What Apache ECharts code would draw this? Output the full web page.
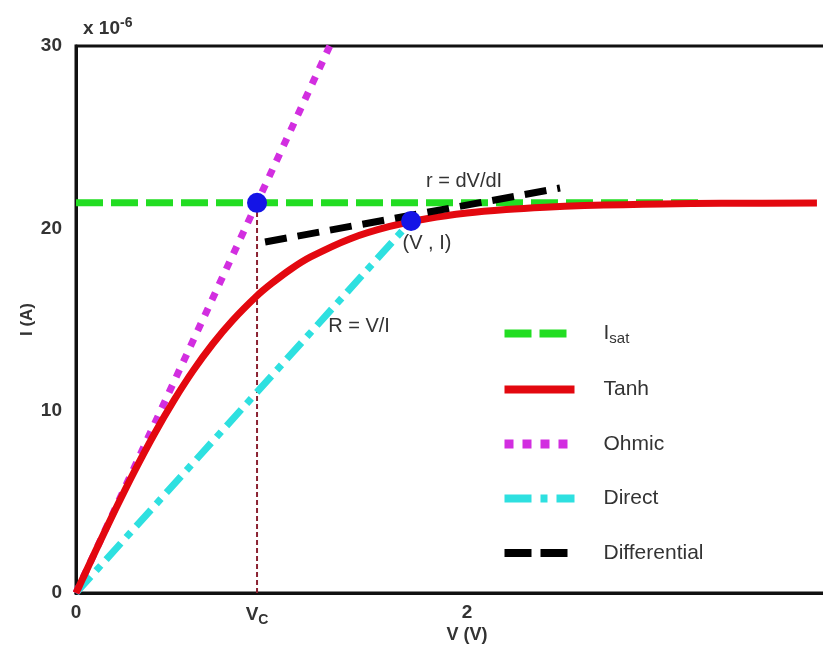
<!DOCTYPE html>
<html>
<head>
<meta charset="utf-8">
<script src="https://cdn.jsdelivr.net/npm/echarts@6/dist/echarts.min.js"></script>
<style>
html,body{margin:0;padding:0;background:#fff;}
#chart{width:823px;height:650px;}
</style>
</head>
<body>
<div id="chart"></div>
<script>
// Values in units of 1e-6 A (current) and V (voltage)
const VC = 0.926;
const ISAT = 21.4;
const xTickValues = [0, VC, 2, 4];
const yTickStep = 10;

const vIsat = [0, 3.2];
const iIsat = [ISAT, ISAT];

const vTanh = [0, 0.1, 0.2, 0.3, 0.4, 0.5, 0.6, 0.7, 0.8, 0.926, 1.0, 1.1, 1.2, 1.4, 1.6, 1.8, 2.0, 2.2, 2.4, 2.6, 2.8, 3.0, 3.3, 3.79];
const iTanh = [0, 2.30, 4.55, 6.70, 8.71, 10.55, 12.21, 13.67, 14.94, 16.30, 16.97, 17.77, 18.43, 19.42, 20.09, 20.54, 20.84, 21.03, 21.16, 21.25, 21.30, 21.34, 21.37, 21.39];

const vOhmic = [0, 1.298];
const iOhmic = [0, 30];

const vDirect = [0, 1.714];
const iDirect = [0, 20.40];

const vDiff = [0.967, 2.476];
const iDiff = [19.25, 22.21];

const vVcLine = [VC, VC];
const iVcLine = [0, ISAT];

const vPoints = [VC, 1.714];
const iPoints = [ISAT, 20.40];

const noteText = ['r = dV/dI', '(V , I)', 'R = V/I'];
const vNotes = [1.985, 1.795, 1.448];
const iNotes = [22.59, 19.19, 14.64];

const zip = (a, b) => a.map((v, i) => [v, b[i]]);
const FONT = "'Liberation Sans', Arial, sans-serif";
const noSym = {color: 'rgba(0,0,0,0)', borderWidth: 0, opacity: 0};

const chart = echarts.init(document.getElementById('chart'), null, {renderer: 'canvas'});

chart.setOption({
  backgroundColor: '#ffffff',
  animation: false,
  textStyle: {fontFamily: FONT},
  title: {
    text: '{a|x 10}{b|-6}',
    left: 78, top: 11,
    textStyle: {
      rich: {
        a: {fontFamily: FONT, fontSize: 19, fontWeight: 'bold', color: '#333'},
        b: {fontFamily: FONT, fontSize: 14, fontWeight: 'bold', color: '#333', padding: [0, 0, 12, 0]}
      }
    }
  },
  grid: {
    left: 76, top: 46, right: -35, bottom: 57,
    outerBoundsMode: 'none',
    show: true, borderColor: '#111', borderWidth: 3, containLabel: false
  },
  legend: {
    orient: 'vertical',
    left: 500, top: 321, padding: 0,
    itemWidth: 70, itemHeight: 20, itemGap: 32.5,
    textStyle: {fontFamily: FONT, fontSize: 21, color: '#333', padding: [0, 0, 0, 24], lineHeight: 22,
      rich: {
        i: {fontFamily: FONT, fontSize: 21, color: '#333', lineHeight: 22},
        s: {fontFamily: FONT, fontSize: 15, color: '#333', padding: [10, 0, 0, 0], lineHeight: 22}
      }
    },
    formatter: name => name === 'Isat' ? '{i|I}{s|sat}' : name,
    data: [
      {name: 'Isat', itemStyle: noSym, lineStyle: {width: 8, type: [27, 8]}},
      {name: 'Tanh', itemStyle: noSym, lineStyle: {width: 8, type: 'solid'}},
      {name: 'Ohmic', itemStyle: noSym, lineStyle: {width: 9, type: [9, 9]}},
      {name: 'Direct', itemStyle: noSym, lineStyle: {width: 8, type: [27, 9, 7, 9]}},
      {name: 'Differential', itemStyle: noSym, lineStyle: {width: 8, type: [27, 9]}}
    ]
  },
  xAxis: {
    type: 'value', min: 0, max: 4,
    axisLine: {lineStyle: {color: '#111', width: 3}},
    axisTick: {show: false},
    splitLine: {show: false},
    name: 'V (V)', nameLocation: 'middle', nameGap: 33, nameMoveOverlap: false,
    nameTextStyle: {fontFamily: FONT, fontSize: 18, fontWeight: 'bold', color: '#333'},
    axisLabel: {
      customValues: xTickValues,
      margin: 10,
      fontFamily: FONT, fontSize: 19, fontWeight: 'bold', color: '#333',
      formatter: v => Math.abs(v - VC) < 1e-6 ? '{v|V}{c|C}' : String(v),
      rich: {
        v: {fontFamily: FONT, fontSize: 19, fontWeight: 'bold', color: '#333'},
        c: {fontFamily: FONT, fontSize: 14, fontWeight: 'bold', color: '#333', padding: [10, 0, 0, 0]}
      }
    }
  },
  yAxis: {
    type: 'value', min: 0, max: 30, interval: yTickStep,
    axisLine: {show: true, lineStyle: {color: '#111', width: 3}},
    axisTick: {show: false},
    splitLine: {show: false},
    name: 'I (A)', nameLocation: 'middle', nameGap: 40, nameRotate: 90, nameMoveOverlap: false,
    nameTextStyle: {fontFamily: FONT, fontSize: 17, fontWeight: 'bold', color: '#333'},
    axisLabel: {margin: 14, fontFamily: FONT, fontSize: 19, fontWeight: 'bold', color: '#333'}
  },
  series: [
    {
      name: 'VcLine', type: 'line', data: zip(vVcLine, iVcLine), symbol: 'none', silent: true, z: 1,
      lineStyle: {color: '#8b2232', width: 2, type: [5, 3]}
    },
    {
      name: 'Isat', type: 'line', data: zip(vIsat, iIsat), symbol: 'none', z: 2,
      itemStyle: {color: '#22dd22'},
      lineStyle: {color: '#22dd22', width: 7, type: [27, 8]}
    },
    {
      name: 'Direct', type: 'line', data: zip(vDirect, iDirect), symbol: 'none', z: 3,
      itemStyle: {color: '#2ee0e0'},
      lineStyle: {color: '#2ee0e0', width: 7, type: [22, 8, 7, 8]}
    },
    {
      name: 'Ohmic', type: 'line', data: zip(vOhmic, iOhmic), symbol: 'none', z: 3,
      itemStyle: {color: '#d22ee0'},
      lineStyle: {color: '#d22ee0', width: 7, type: [8, 9]}
    },
    {
      name: 'Tanh', type: 'line', data: zip(vTanh, iTanh), symbol: 'none', smooth: 0.3, z: 4,
      itemStyle: {color: '#e3080f'},
      lineStyle: {color: '#e3080f', width: 7}
    },
    {
      name: 'Differential', type: 'line', data: zip(vDiff, iDiff), symbol: 'none', z: 5,
      itemStyle: {color: '#000000'},
      lineStyle: {color: '#000000', width: 7, type: [22, 11]}
    },
    {
      name: 'Points', type: 'scatter', data: zip(vPoints, iPoints), symbol: 'circle', symbolSize: 20, z: 6,
      itemStyle: {color: '#1414e6', opacity: 1}, silent: true
    },
    {
      name: 'Notes', type: 'scatter', symbolSize: 1, silent: true, z: 7,
      itemStyle: {color: 'rgba(0,0,0,0)', opacity: 1},
      data: noteText.map((t, i) => ({name: t, value: [vNotes[i], iNotes[i]]})),
      label: {show: true, position: 'inside', formatter: p => p.name,
        fontFamily: FONT, fontSize: 20, color: '#333'}
    }
  ]
});
</script>
</body>
</html>
